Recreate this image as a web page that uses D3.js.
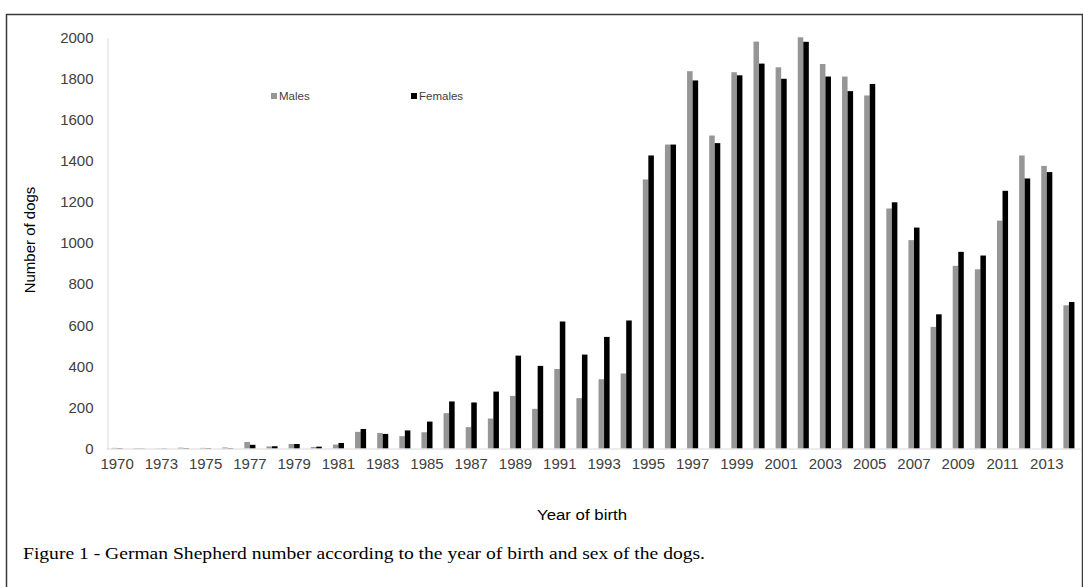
<!DOCTYPE html>
<html>
<head>
<meta charset="utf-8">
<script src="https://cdn.jsdelivr.net/npm/d3@7"></script>
<style>
  body { margin: 0; background: #fff; }
  svg { display: block; }
  .tick text { font-family: "Liberation Sans", Arial, sans-serif; fill: #404040; }
</style>
</head>
<body>
<svg id="chart" width="1083" height="587"></svg>
<script>
const years = ["1970","1971","1973","1974","1975","1976","1977","1978","1979","1980",
  "1981","1982","1983","1984","1985","1986","1987","1988","1989","1990",
  "1991","1992","1993","1994","1995","1996","1997","1998","1999","2000",
  "2001","2002","2003","2004","2005","2006","2007","2008","2009","2010",
  "2011","2012","2013","2014"];

const males = [3, 2, 1, 4, 3, 5, 32, 10, 22, 7,
  19, 81, 76, 60, 79, 172, 104, 146, 256, 193,
  387, 245, 337, 365, 1309, 1479, 1836, 1523, 1831, 1980,
  1855, 2001, 1871, 1810, 1718, 1168, 1014, 592, 889, 872,
  1109, 1426, 1375, 697];

const females = [2, 1, 1, 2, 2, 2, 18, 11, 22, 9,
  27, 95, 71, 88, 131, 229, 224, 277, 452, 402,
  618, 457, 543, 623, 1426, 1479, 1791, 1486, 1816, 1873,
  1799, 1979, 1810, 1739, 1774, 1198, 1075, 653, 957, 939,
  1254, 1314, 1345, 713];

const yTicks = [0, 200, 400, 600, 800, 1000, 1200, 1400, 1600, 1800, 2000];
const xTickLabels = years.filter((d, i) => i % 2 === 0);

const series = [
  { key: "Males", values: males, color: "#969696" },
  { key: "Females", values: females, color: "#000000" }
];

const svg = d3.select("#chart");

// outer frame
svg.append("rect")
  .attr("x", 6.5).attr("y", 14.5)
  .attr("width", 1076).attr("height", 620)
  .attr("fill", "none")
  .attr("stroke", "#3a3a3a")
  .attr("stroke-width", 1.5);

const x = d3.scaleBand()
  .domain(years)
  .range([106, 1080])
  .paddingInner(0.5)
  .paddingOuter(0.25);

const xSub = d3.scaleBand()
  .domain(series.map(s => s.key))
  .range([0, x.bandwidth()]);

const y = d3.scaleLinear()
  .domain([0, 2000])
  .range([448.5, 37.5]);

// y axis
const yAxis = svg.append("g")
  .attr("transform", "translate(107.5,0)")
  .call(d3.axisLeft(y).tickValues(yTicks).tickFormat(d3.format("d")).tickSize(0).tickPadding(14));
yAxis.select(".domain").attr("stroke", "#d9d9d9");
yAxis.selectAll("text").attr("font-size", 15);

// bars
series.forEach(s => {
  svg.append("g")
    .selectAll("rect")
    .data(years)
    .join("rect")
    .attr("x", (d) => x(d) + xSub(s.key))
    .attr("width", xSub.bandwidth())
    .attr("y", (d, i) => y(s.values[i]))
    .attr("height", (d, i) => y(0) - y(s.values[i]))
    .attr("fill", s.color);
});

// x axis
const xAxis = svg.append("g")
  .attr("transform", `translate(0,${y(0)})`)
  .call(d3.axisBottom(x).tickValues(xTickLabels).tickSize(0).tickSizeOuter(0).tickPadding(10));
xAxis.select(".domain").attr("stroke", "#d9d9d9");
xAxis.selectAll("text").attr("font-size", 15);

// axis titles
svg.append("text")
  .attr("transform", "translate(35,240) rotate(-90)")
  .attr("text-anchor", "middle")
  .attr("font-family", "Liberation Sans, Arial, sans-serif")
  .attr("font-size", 15)
  .attr("fill", "#000")
  .text("Number of dogs");

svg.append("text")
  .attr("x", 582).attr("y", 520)
  .attr("text-anchor", "middle")
  .attr("font-family", "Liberation Sans, Arial, sans-serif")
  .attr("font-size", 14)
  .attr("textLength", 90)
  .attr("lengthAdjust", "spacingAndGlyphs")
  .attr("fill", "#000")
  .text("Year of birth");

// legend
const legendX = [271, 411];
series.forEach((s, i) => {
  const g = svg.append("g").attr("transform", `translate(${legendX[i]},96)`);
  g.append("rect")
    .attr("x", 0).attr("y", -3)
    .attr("width", 6).attr("height", 6)
    .attr("fill", s.color);
  g.append("text")
    .attr("x", 8).attr("y", 4)
    .attr("font-family", "Liberation Sans, Arial, sans-serif")
    .attr("font-size", 11.5)
    .attr("fill", "#404040")
    .text(s.key);
});

// caption
svg.append("text")
  .attr("x", 23).attr("y", 559)
  .attr("font-family", "Liberation Serif, Times New Roman, serif")
  .attr("font-size", 17)
  .attr("textLength", 682)
  .attr("lengthAdjust", "spacingAndGlyphs")
  .attr("fill", "#000")
  .text("Figure 1 - German Shepherd number according to the year of birth and sex of the dogs.");
</script>
</body>
</html>
